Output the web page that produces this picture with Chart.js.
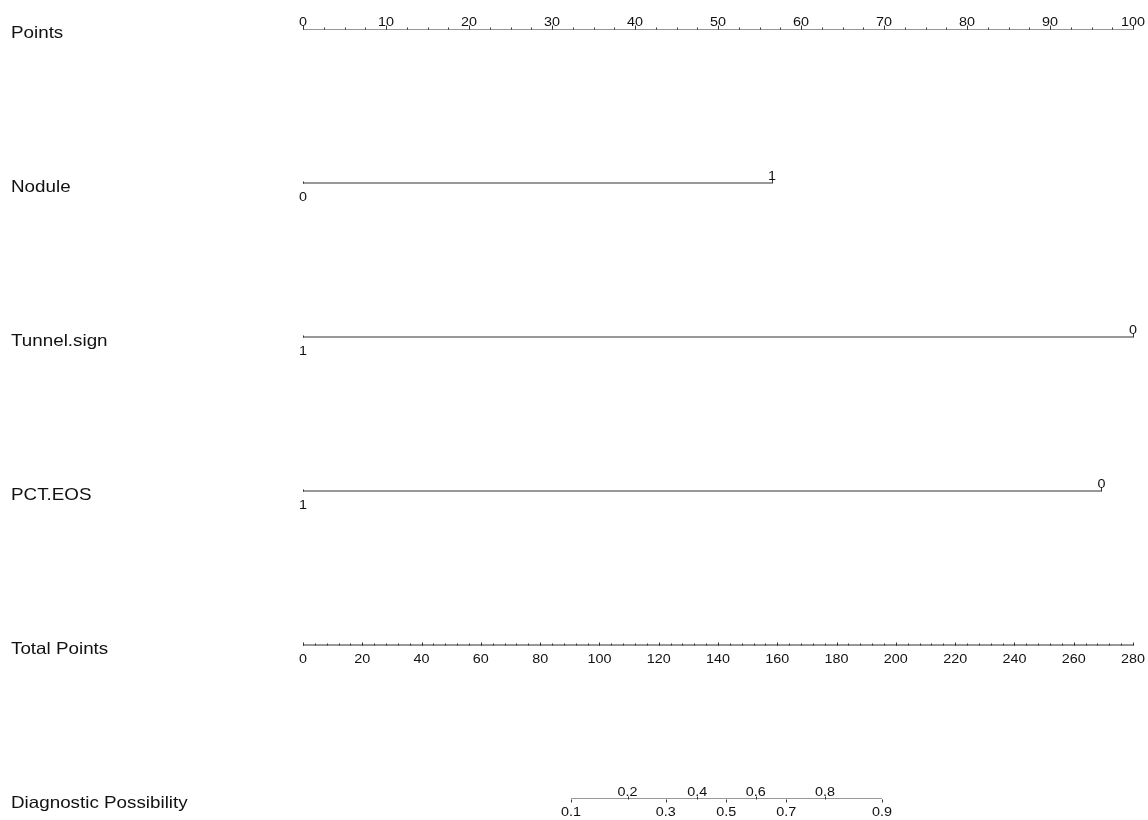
<!DOCTYPE html>
<html>
<head>
<meta charset="utf-8">
<script src="https://cdn.jsdelivr.net/npm/chart.js@4/dist/chart.umd.min.js"></script>
<style>
  html, body { margin: 0; padding: 0; background: #ffffff; }
  #wrap { position: relative; width: 1148px; height: 820px; }
</style>
</head>
<body>
<div id="wrap"><canvas id="nomo"></canvas></div>
<script>
// rows of the nomogram, top to bottom
const rowLabels = ["Points", "Nodule", "Tunnel.sign", "PCT.EOS", "Total Points", "Diagnostic Possibility"];

// points scale
const pointsTicks = [0, 10, 20, 30, 40, 50, 60, 70, 80, 90, 100];
const pointsMinorStep = 2.5;

// predictors: level labels and the points they get
const noduleLevels = ["0", "1"];
const nodulePoints = [0, 56.5];
const tunnelLevels = ["1", "0"];
const tunnelPoints = [0, 100];
const pctLevels = ["1", "0"];
const pctPoints = [0, 96.2];

// total points scale
const totalTicks = [0, 20, 40, 60, 80, 100, 120, 140, 160, 180, 200, 220, 240, 260, 280];
const totalMinorStep = 4;
const totalMax = 280;

const probLabels = ["0.1", "0.2", "0.3", "0.4", "0.5", "0.6", "0.7", "0.8", "0.9"];
const probTotalPoints = [90.4, 109.5, 122.4, 133.0, 142.8, 152.7, 163.0, 176.1, 195.3];

const lineColor = "#333333";
const textColor = "#111111";
const fontFamily = "'Liberation Sans', Arial, sans-serif";

const toPts = (tp) => tp * 100 / totalMax;

function axisLine(x0, x1, row) {
  return {
    data: [{ x: x0, y: row }, { x: x1, y: row }],
    borderColor: lineColor,
    borderWidth: 1.2,
    pointRadius: 0,
    showLine: true,
    fill: false,
  };
}

// stretched text, the original is a little wider than plain Arial
function stretchText(ctx, txt, x, y, size, align, baseline, sx) {
  ctx.save();
  ctx.font = size + "px " + fontFamily;
  ctx.fillStyle = textColor;
  ctx.textAlign = align;
  ctx.textBaseline = baseline;
  ctx.translate(x, y);
  ctx.scale(sx, 1);
  ctx.fillText(txt, 0, 0);
  ctx.restore();
}

function tick(ctx, x, y, len) {
  ctx.beginPath();
  ctx.moveTo(Math.round(x) + 0.5, y);
  ctx.lineTo(Math.round(x) + 0.5, y + len);
  ctx.stroke();
}

const nomogramPlugin = {
  id: "nomogram",
  afterDatasetsDraw(chart) {
    const ctx = chart.ctx;
    const xs = chart.scales.x;
    const ys = chart.scales.y;
    const rowY = (r) => Math.round(ys.getPixelForValue(r)) + 0.5;

    ctx.save();
    ctx.strokeStyle = lineColor;
    ctx.lineWidth = 1;

    // row titles
    rowLabels.forEach((lab, r) => {
      stretchText(ctx, lab, 11, rowY(r) + 3.5, 16.5, "left", "middle", 1.14);
    });

    // Points
    let y = rowY(0);
    for (let v = 0; v <= 100 + 1e-6; v += pointsMinorStep) {
      tick(ctx, xs.getPixelForValue(v), y, -2);
    }
    pointsTicks.forEach((v) => {
      const x = xs.getPixelForValue(v);
      tick(ctx, x, y, -4);
      stretchText(ctx, String(v), x, y - 4, 12.5, "center", "alphabetic", 1.15);
    });

    // categorical predictors: first level below, last level above
    const cats = [
      [1, noduleLevels, nodulePoints],
      [2, tunnelLevels, tunnelPoints],
      [3, pctLevels, pctPoints],
    ];
    cats.forEach(([r, levels, pts]) => {
      const yy = rowY(r);
      levels.forEach((lab, i) => {
        const x = xs.getPixelForValue(pts[i]);
        if (i % 2 === 0) {
          tick(ctx, x, yy, -2);
          stretchText(ctx, lab, x, yy + 17, 12.5, "center", "alphabetic", 1.15);
        } else {
          tick(ctx, x, yy, -4);
          stretchText(ctx, lab, x, yy - 4, 12.5, "center", "alphabetic", 1.15);
        }
      });
    });

    // Total Points
    y = rowY(4);
    for (let v = 0; v <= totalMax + 1e-6; v += totalMinorStep) {
      tick(ctx, xs.getPixelForValue(toPts(v)), y, -2);
    }
    totalTicks.forEach((v) => {
      const x = xs.getPixelForValue(toPts(v));
      tick(ctx, x, y, -3);
      stretchText(ctx, String(v), x, y + 17, 12.5, "center", "alphabetic", 1.15);
    });

    // Diagnostic Possibility, labels alternate below / above
    y = rowY(5);
    probLabels.forEach((lab, i) => {
      const x = xs.getPixelForValue(toPts(probTotalPoints[i]));
      if (i % 2 === 0) {
        tick(ctx, x, y, 3);
        stretchText(ctx, lab, x, y + 16, 12.5, "center", "alphabetic", 1.15);
      } else {
        tick(ctx, x, y, -3);
        stretchText(ctx, lab, x, y - 4, 12.5, "center", "alphabetic", 1.15);
      }
    });

    ctx.restore();
  },
};

new Chart(document.getElementById("nomo"), {
  type: "line",
  data: {
    datasets: [
      axisLine(0, 100, 0),
      axisLine(nodulePoints[0], nodulePoints[1], 1),
      axisLine(tunnelPoints[0], tunnelPoints[1], 2),
      axisLine(pctPoints[0], pctPoints[1], 3),
      axisLine(0, toPts(totalMax), 4),
      axisLine(toPts(probTotalPoints[0]), toPts(probTotalPoints[probTotalPoints.length - 1]), 5),
    ],
  },
  options: {
    responsive: true,
    maintainAspectRatio: false,
    animation: false,
    layout: { padding: { left: 303, right: 15, top: 29, bottom: 21 } },
    plugins: { legend: { display: false }, tooltip: { enabled: false } },
    scales: {
      x: { type: "linear", min: 0, max: 100, display: false },
      y: { type: "linear", min: 0, max: 5, reverse: true, display: false },
    },
  },
  plugins: [nomogramPlugin],
});
</script>
</body>
</html>
